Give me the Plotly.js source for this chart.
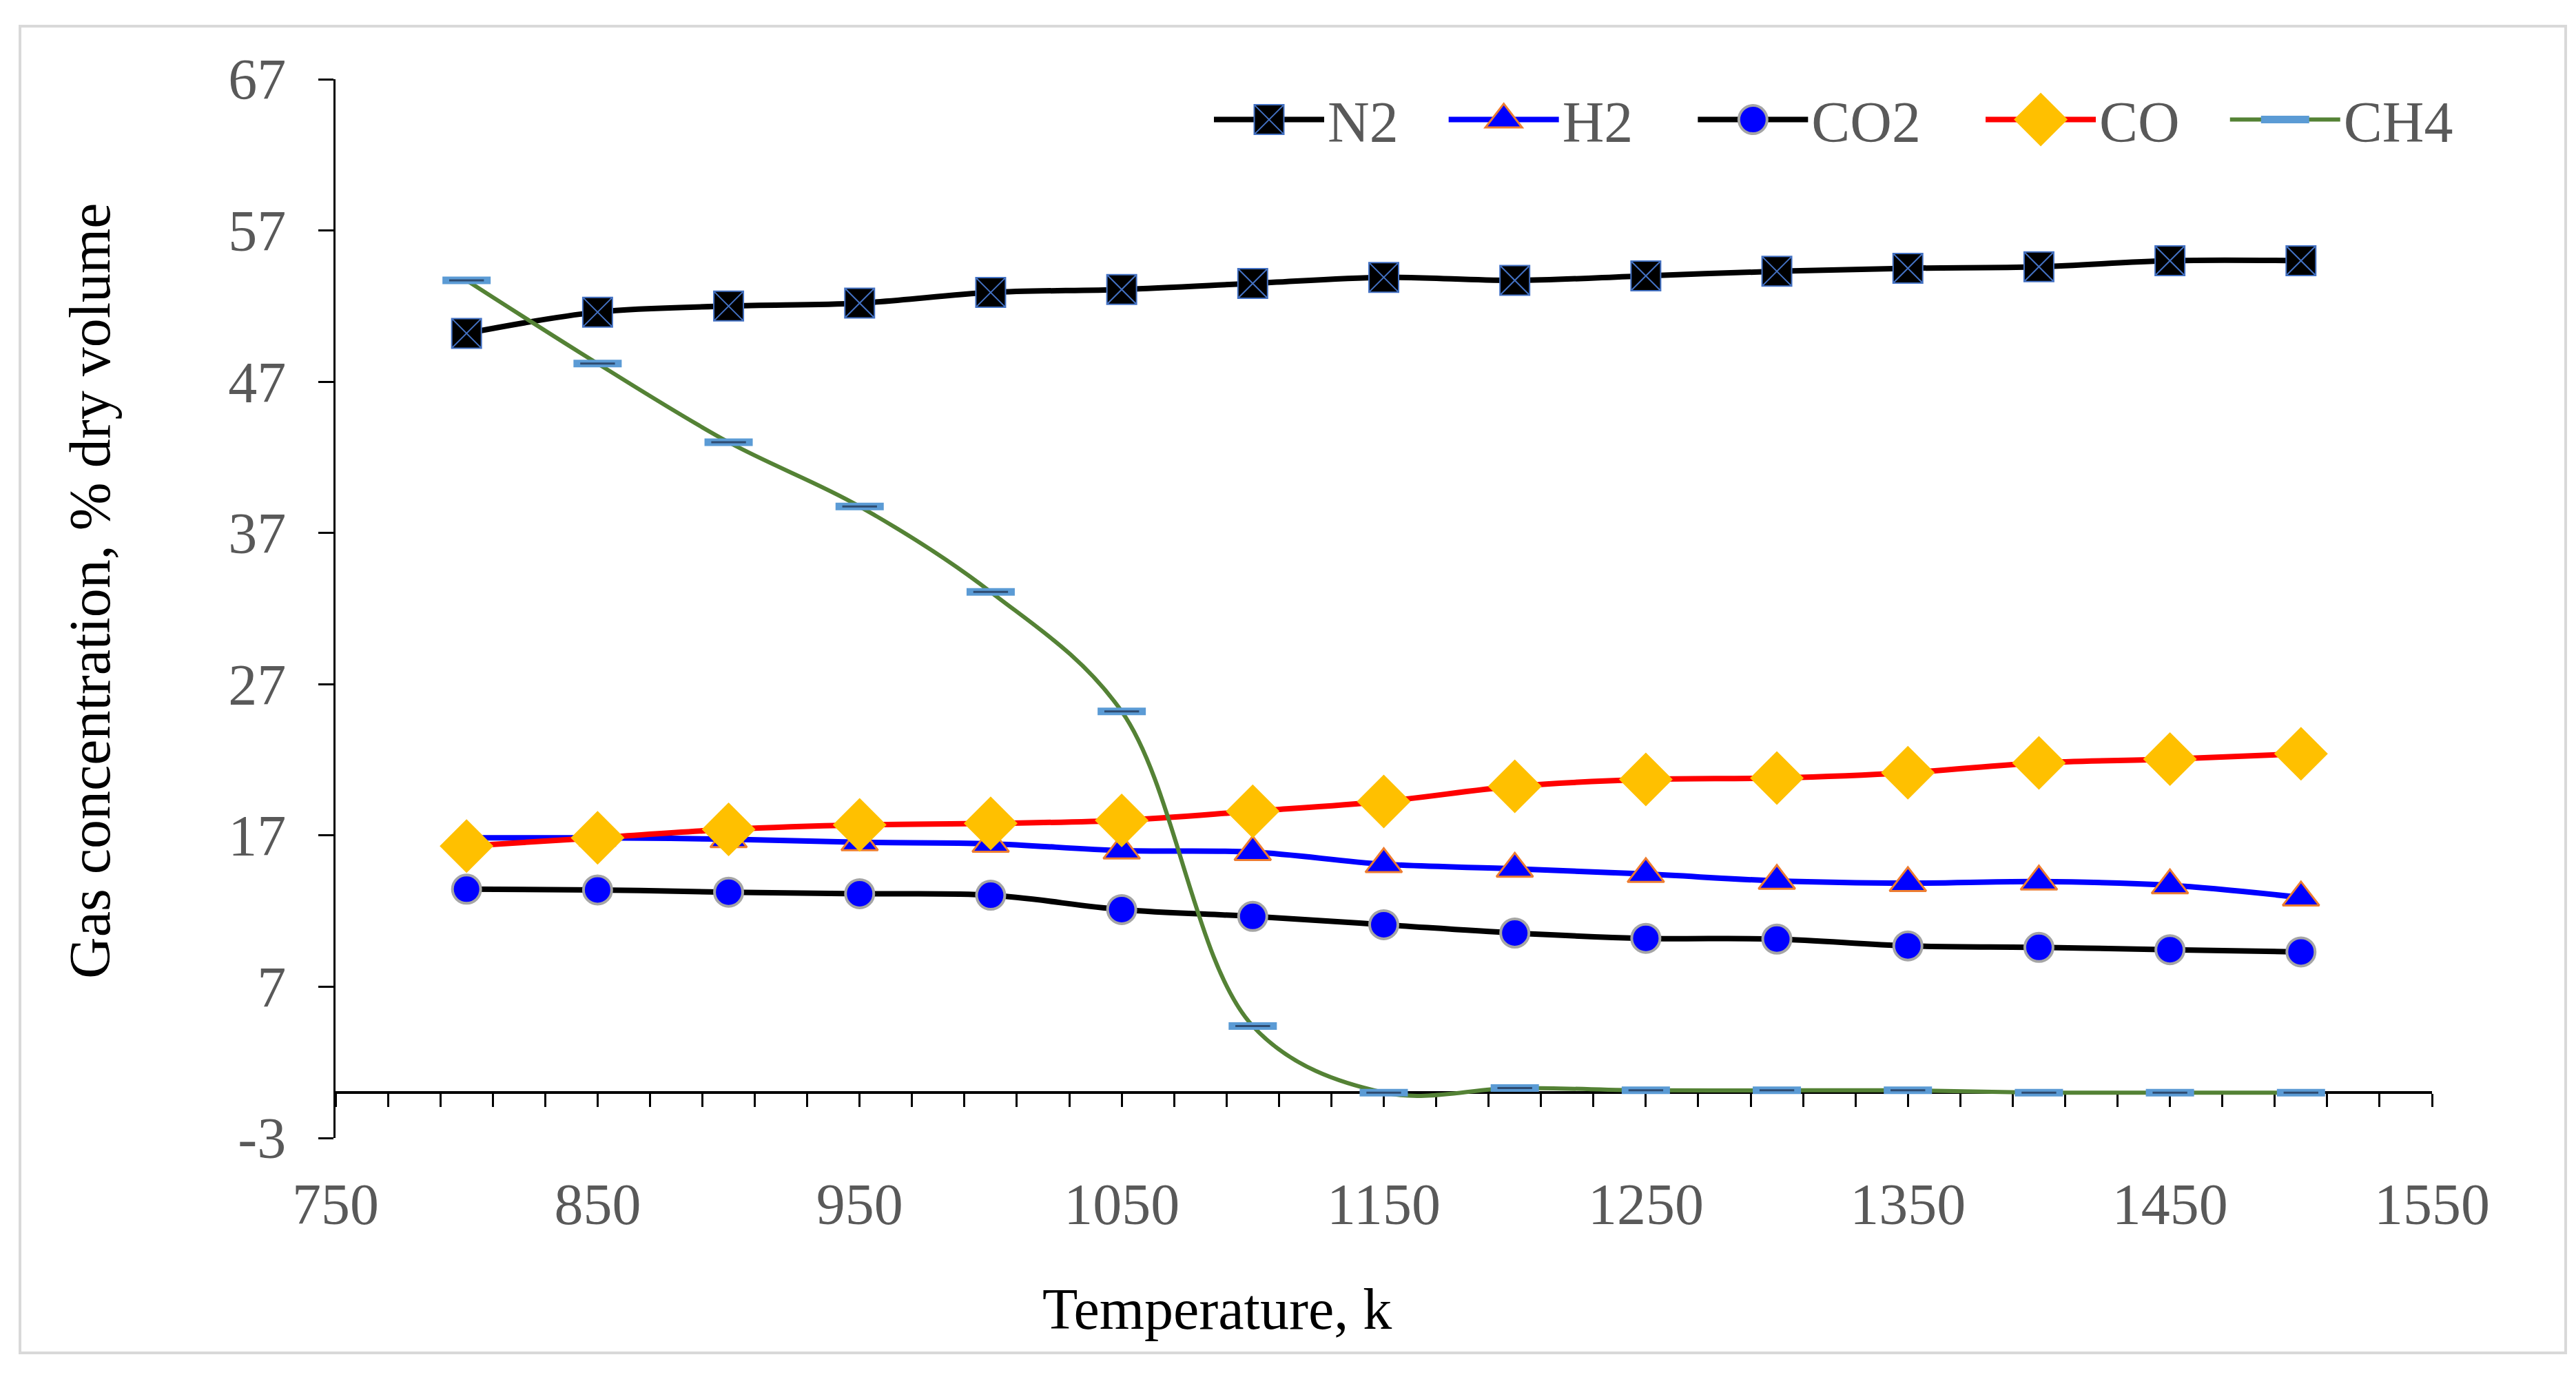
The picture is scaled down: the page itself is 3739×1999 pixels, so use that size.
<!DOCTYPE html>
<html>
<head>
<meta charset="utf-8">
<script src="https://cdn.plot.ly/plotly-3.0.1.min.js"></script>
<style>html,body{margin:0;padding:0;background:#fff}</style>
</head>
<body>
<div id="chart" style="width:3739px;height:1999px"></div>
<script>
// temperature, K
const temperature = [800, 850, 900, 950, 1000, 1050, 1100, 1150, 1200, 1250, 1300, 1350, 1400, 1450, 1500];
// gas concentration, % dry volume
const n2  = [50.2, 51.6, 52.0, 52.2, 52.9, 53.1, 53.5, 53.9, 53.7, 54.0, 54.3, 54.5, 54.6, 55.0, 55.0];
const h2  = [16.85, 16.85, 16.75, 16.55, 16.45, 16.0, 15.9, 15.1, 14.8, 14.45, 14.0, 13.85, 13.95, 13.7, 12.9];
const co2 = [13.45, 13.4, 13.25, 13.15, 13.05, 12.1, 11.65, 11.1, 10.55, 10.2, 10.15, 9.7, 9.6, 9.45, 9.3];
const co  = [16.3, 16.85, 17.4, 17.7, 17.8, 18.0, 18.6, 19.25, 20.25, 20.7, 20.8, 21.15, 21.8, 22.05, 22.4];
const ch4 = [53.7, 48.2, 43.0, 38.75, 33.1, 25.2, 4.4, 0, 0.3, 0.15, 0.15, 0.15, 0, 0, 0];

const yTickVals = [-3, 7, 17, 27, 37, 47, 57, 67];
const yTickText = ["-3", "7", "17", "27", "37", "47", "57", "67"];

const xRange = [750, 1550];
const yRange = [-3, 67];

W = 3739;
H = 1999;
const M = {l: 487, r: 209, t: 115, b: 347};
const FONT = "'Liberation Serif', 'Times New Roman', serif";
const GREY = "#595959";
const NB = "\u00A0";

// pixel -> paper helpers for decorations
function px(x) { return (x - M.l) / (W - M.l - M.r); }
function py(y) { return (H - M.b - y) / (H - M.t - M.b); }

function series(name, y, lineColor, marker, width = 8) {
    return {
        x: temperature,
        y: y,
        name: name,
        type: "scatter",
        mode: "lines+markers",
        line: {color: lineColor, width: width, shape: "spline", smoothing: 1},
        marker: marker,
        hoverinfo: "x+y"
    }
}

const traces = [
    series("N2" + NB.repeat(3), n2, "#000000", {symbol: "square-x", size: 43, color: "#000000", line: {color: "#4472C4", width: 2}}),
    series("H2" + NB.repeat(4), h2, "#0000FF", {symbol: "triangle-up", size: 46, color: "#0000FF", line: {color: "#ED7D31", width: 3}}),
    series("CO2" + NB.repeat(4), co2, "#000000", {symbol: "circle", size: 41, color: "#0000FF", line: {color: "#A5A5A5", width: 4}}),
    series("CO" + NB.repeat(3), co, "#FF0000", {symbol: "diamond", size: 60, color: "#FFC000", line: {width: 0}}),
    series("CH4", ch4, "#548235", {symbol: "line-ew", size: 50, line: {color: "#5B9BD5", width: 11}}, 6),
    {
        x: temperature,
        y: ch4,
        type: "scatter",
        mode: "markers",
        showlegend: false,
        hoverinfo: "skip",
        marker: {symbol: "line-ew", size: 36, line: {color: "#2E4B70", width: 3}}
    },
    // carries the zero-crossing axis
    {x: [], y: [], xaxis: "x2", type: "scatter", showlegend: false, hoverinfo: "skip"}
];

// legend symbol sizes wanted (px) and their stroke widths
const legendMarks = [
    {size: 43, stroke: 2},
    {size: 46, stroke: 3},
    {size: 41, stroke: 4},
    {size: 60, stroke: 0},
    {size: 50, stroke: 11}
];

const layout = {
    width: W,
    height: H,
    margin: M,
    paper_bgcolor: "#ffffff",
    plot_bgcolor: "#ffffff",
    font: {family: FONT, size: 84, color: GREY},
    showlegend: true,
    legend: {
        orientation: "h",
        x: px(1757),
        xanchor: "left",
        y: py(174),
        yanchor: "middle",
        itemwidth: 160,
        font: {family: FONT, size: 84, color: GREY},
        bgcolor: "rgba(0,0,0,0)"
    },
    xaxis: {
        range: xRange,
        tick0: 750,
        dtick: 100,
        ticks: "",
        showline: false,
        showgrid: false,
        zeroline: false,
        ticklabelstandoff: 40,
        tickfont: {family: FONT, size: 84, color: GREY}
    },
    xaxis2: {
        overlaying: "x",
        matches: "x",
        range: xRange,
        anchor: "free",
        position: (0 - yRange[0]) / (yRange[1] - yRange[0]),
        showline: true,
        linecolor: "#000000",
        linewidth: 4,
        ticks: "outside",
        tick0: 750,
        dtick: 20,
        ticklen: 19,
        tickwidth: 3,
        tickcolor: "#000000",
        showticklabels: false,
        showgrid: false,
        zeroline: false,
        layer: "below traces"
    },
    yaxis: {
        range: yRange,
        tickmode: "array",
        tickvals: yTickVals,
        ticktext: yTickText,
        ticks: "outside",
        ticklen: 22,
        tickwidth: 3,
        tickcolor: "#000000",
        showline: true,
        linecolor: "#000000",
        linewidth: 3,
        showgrid: false,
        zeroline: false,
        ticklabelstandoff: 30,
        tickfont: {family: FONT, size: 84, color: GREY}
    },
    annotations: [
        {
            text: "Gas concentration, % dry volume",
            xref: "paper", yref: "paper",
            x: px(131), y: py(858),
            xanchor: "center", yanchor: "middle",
            textangle: -90,
            showarrow: false,
            font: {family: FONT, size: 84, color: "#000000"}
        },
        {
            text: "Temperature, k",
            xref: "paper", yref: "paper",
            x: px(1766), y: py(1900),
            xanchor: "center", yanchor: "middle",
            showarrow: false,
            font: {family: FONT, size: 84, color: "#000000"}
        }
    ],
    shapes: [
        {
            type: "rect",
            xref: "paper", yref: "paper",
            x0: px(29), x1: px(3724),
            y0: py(1964), y1: py(38),
            line: {color: "#D9D9D9", width: 4},
            fillcolor: "rgba(0,0,0,0)",
            layer: "below"
        }
    ]
};

// plotly caps legend markers at 16px; blow them up to the plotted size
function enlargeLegend() {
    const items = document.querySelectorAll("#chart .legend .traces");
    items.forEach(function (item, i) {
        const want = legendMarks[i];
        if (!want) return;
        const scale = want.size / 16;
        item.querySelectorAll(".legendpoints path.scatterpts").forEach(function (p) {
            const t = p.getAttribute("transform") || "";
            if (t.indexOf("scale") >= 0) return;
            p.setAttribute("transform", t + " scale(" + scale + ")");
            p.style.strokeWidth = (want.stroke / scale) + "px";
        });
    });
}

Plotly.newPlot("chart", traces, layout, {displayModeBar: false, responsive: false}).then(function (gd) {
    enlargeLegend();
    gd.on("plotly_afterplot", enlargeLegend);
});
</script>
</body>
</html>
